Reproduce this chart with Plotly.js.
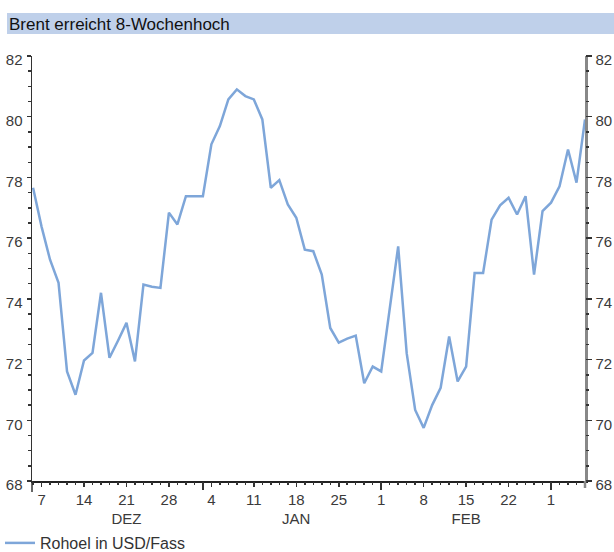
<!DOCTYPE html>
<html>
<head>
<meta charset="utf-8">
<script src="https://cdn.plot.ly/plotly-3.0.1.min.js"></script>
<style>html,body{margin:0;padding:0;background:#fff}#chart{width:614px;height:552px}</style>
</head>
<body>
<div id="chart"></div>
<script>
// Trading days (Mon-Fri), Dec 2009 - Mar 2010
const dates = [
 "2009-12-04",
 "2009-12-07","2009-12-08","2009-12-09","2009-12-10","2009-12-11",
 "2009-12-14","2009-12-15","2009-12-16","2009-12-17","2009-12-18",
 "2009-12-21","2009-12-22","2009-12-23","2009-12-24","2009-12-25",
 "2009-12-28","2009-12-29","2009-12-30","2009-12-31","2010-01-01",
 "2010-01-04","2010-01-05","2010-01-06","2010-01-07","2010-01-08",
 "2010-01-11","2010-01-12","2010-01-13","2010-01-14","2010-01-15",
 "2010-01-18","2010-01-19","2010-01-20","2010-01-21","2010-01-22",
 "2010-01-25","2010-01-26","2010-01-27","2010-01-28","2010-01-29",
 "2010-02-01","2010-02-02","2010-02-03","2010-02-04","2010-02-05",
 "2010-02-08","2010-02-09","2010-02-10","2010-02-11","2010-02-12",
 "2010-02-15","2010-02-16","2010-02-17","2010-02-18","2010-02-19",
 "2010-02-22","2010-02-23","2010-02-24","2010-02-25","2010-02-26",
 "2010-03-01","2010-03-02","2010-03-03","2010-03-04","2010-03-05"
];
// Brent, USD per barrel
const brent = [
 77.66,
 76.38,75.29,74.53,71.61,70.84,
 71.97,72.22,74.20,72.06,72.62,
 73.21,71.94,74.47,74.40,74.36,
 76.84,76.45,77.38,77.38,77.38,
 79.09,79.69,80.57,80.90,80.68,
 80.57,79.91,77.66,77.91,77.11,
 76.67,75.62,75.57,74.80,73.04,
 72.56,72.69,72.79,71.22,71.77,
 71.61,73.70,75.73,72.21,70.34,
 69.75,70.50,71.07,72.76,71.28,
 71.77,74.85,74.85,76.61,77.08,
 77.33,76.78,77.38,74.80,76.89,
 77.17,77.71,78.92,77.83,79.91
];
const weekTickVals = ["2009-12-07","2009-12-14","2009-12-21","2009-12-28","2010-01-04","2010-01-11","2010-01-18","2010-01-25","2010-02-01","2010-02-08","2010-02-15","2010-02-22","2010-03-01"];
const weekTickText = ["7","14","21<br>DEZ","28","4","11","18<br>JAN","25","1","8","15<br>FEB","22","1"];
const monthStarts = ["2010-01-01","2010-02-01","2010-03-01"];
const xRange = ["2009-12-03 21:00","2010-03-05 00:00"];
const yRange = [68, 82];
const titleText = "Brent erreicht 8-Wochenhoch";
const seriesName = "Rohoel in USD/Fass";

const tickFont = {family: "Liberation Sans, Arial, sans-serif", size: 15, color: "#3a3a3a"};
const breaks = [{bounds: ["sat", "mon"]}];

const trace = {
  x: dates, y: brent, type: "scatter", mode: "lines", name: seriesName,
  line: {color: "#7ea6d9", width: 2.5}, hoverinfo: "skip"
};
function helper(xa, ya) {
  return {x: dates, y: brent, xaxis: xa, yaxis: ya, type: "scatter", mode: "lines",
    line: {width: 0, color: "rgba(0,0,0,0)"}, showlegend: false, hoverinfo: "skip"};
}

const yCommon = {
  type: "linear", range: yRange, showgrid: false, zeroline: false, fixedrange: true
};
const yMajor = Object.assign({}, yCommon, {
  tickmode: "linear", dtick: 2, tick0: 68,
  ticks: "outside", ticklen: 4, tickwidth: 1.5, tickcolor: "#333",
  tickfont: tickFont, showline: true, ticklabelshift: 4, ticklabelstandoff: 1
});
const yMinor = Object.assign({}, yCommon, {
  tickmode: "linear", dtick: 0.5, tick0: 68,
  ticks: "outside", ticklen: 3, tickwidth: 1.5, tickcolor: "#333",
  showticklabels: false, showline: false
});
const xCommon = {
  type: "date", range: xRange, rangebreaks: breaks, showgrid: false, zeroline: false, fixedrange: true
};

const layout = {
  width: 614, height: 552,
  margin: {l: 32, r: 29, t: 56, b: 71, pad: 0, autoexpand: false},
  paper_bgcolor: "#fff", plot_bgcolor: "#fff",
  showlegend: true,
  title: {
    text: titleText, xref: "container", yref: "container",
    x: 9/614, xanchor: "left", y: 1 - 24/552, yanchor: "middle",
    font: {family: "Liberation Sans, Arial, sans-serif", size: 17, color: "#111"}
  },
  shapes: [
    {type: "rect", xref: "paper", yref: "paper", layer: "below",
     x0: (7-32)/553, x1: (614-32)/553, y0: (481-34)/425, y1: (481-13)/425,
     fillcolor: "#bfd0ea", line: {width: 0}},
    {type: "line", xref: "paper", yref: "paper", x0: 0, x1: 0, y0: 0, y1: -11/425,
     line: {color: "#333", width: 1.5}},
    {type: "line", xref: "paper", yref: "paper", x0: 1, x1: 1, y0: 0, y1: -7/425,
     line: {color: "#888", width: 2.5}}
  ],
  xaxis: Object.assign({}, xCommon, {
    tickmode: "array", tickvals: weekTickVals, ticktext: weekTickText,
    ticks: "outside", ticklen: 4, tickwidth: 1.5, tickcolor: "#333",
    tickfont: tickFont, showline: true, linecolor: "#222", linewidth: 1.5
  }),
  xaxis2: Object.assign({}, xCommon, {
    overlaying: "x", anchor: "y", side: "bottom",
    tickmode: "array", tickvals: monthStarts, ticktext: monthStarts.map(() => ""),
    ticks: "outside", ticklen: 8, tickwidth: 2, tickcolor: "#333",
    showticklabels: false, showline: false
  }),
  xaxis3: Object.assign({}, xCommon, {
    overlaying: "x", anchor: "y", side: "bottom",
    tickmode: "array", tickvals: dates, ticktext: dates.map(() => ""),
    ticks: "outside", ticklen: 3, tickwidth: 1.5, tickcolor: "#333",
    showticklabels: false, showline: false
  }),
  yaxis: Object.assign({}, yMajor, {side: "left", anchor: "x", linecolor: "#333", linewidth: 1.5}),
  yaxis2: Object.assign({}, yMajor, {side: "right", overlaying: "y", anchor: "x", linecolor: "#888", linewidth: 2.5}),
  yaxis3: Object.assign({}, yMinor, {side: "left", overlaying: "y", anchor: "x"}),
  yaxis4: Object.assign({}, yMinor, {side: "right", overlaying: "y", anchor: "x"}),
  legend: {
    orientation: "h", x: -32/553, xanchor: "left", y: (481-526)/425, yanchor: "top",
    font: {family: "Liberation Sans, Arial, sans-serif", size: 16, color: "#333"},
    bgcolor: "rgba(0,0,0,0)", itemwidth: 30
  }
};

Plotly.newPlot("chart",
  [trace, helper("x2", "y2"), helper("x3", "y3"), helper("x2", "y4")],
  layout, {displayModeBar: false, staticPlot: true});
</script>
</body>
</html>
